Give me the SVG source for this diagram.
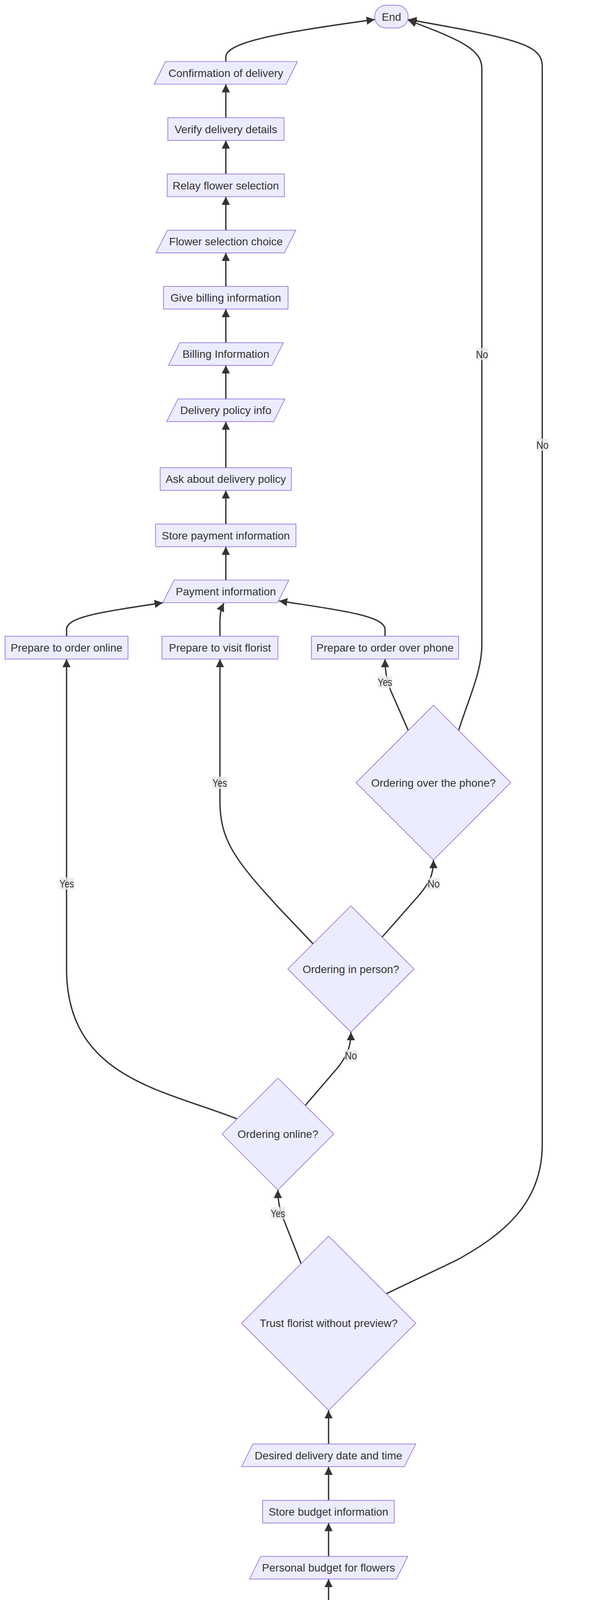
<svg xmlns="http://www.w3.org/2000/svg" width="1568" height="6082" viewBox="0 0 1568 6082">
<style>
.bg{fill:#ffffff}
.n{fill:#ECECFF;stroke:#9370DB;stroke-width:1.7}
.t{font-family:"Liberation Sans",Arial,"DejaVu Sans",sans-serif;font-size:28px;fill:#333333;text-anchor:middle}
.e{fill:none;stroke:#333333;stroke-width:3.4;marker-end:url(#arr)}
.lb{fill:#e8e8e8;fill-opacity:0.8}
</style>
<defs>
<marker id="arr" viewBox="0 0 10 10" refX="10" refY="5" markerUnits="userSpaceOnUse" markerWidth="21" markerHeight="21" orient="auto">
<path d="M0,0 L10,5 L0,10 z" fill="#333333"/>
</marker>
</defs>
<rect class="bg" x="0" y="0" width="1568" height="6082"/>
<g id="edges">
<path class="e" d="M578.6 157.5 L578.6 146 C578.6 110 700 85 960 50"/>
<path class="e" d="M578.6 301.5 L578.6 215.5"/>
<path class="e" d="M578.6 445.5 L578.6 359.5"/>
<path class="e" d="M578.6 589.3 L578.6 503.5"/>
<path class="e" d="M578.6 733.2 L578.6 647.3"/>
<path class="e" d="M578.6 877.3 L578.6 791.2"/>
<path class="e" d="M578.6 1021.4 L578.6 935.3"/>
<path class="e" d="M578.6 1197.4 L578.6 1079.4"/>
<path class="e" d="M578.6 1341.6 L578.6 1255.4"/>
<path class="e" d="M578.6 1485 L578.6 1399.6"/>
<path class="e" d="M170.5 1628.7 L170.5 1612 C170.5 1580 250 1568 417 1543"/>
<path class="e" d="M563.5 1628.7 L563.5 1595 C563.5 1570 566 1560 573.5 1544"/>
<path class="e" d="M986.5 1628.7 L986.5 1612 C986.5 1580 900 1565 715 1538.5"/>
<path class="e" d="M1046 1870 L1001 1768 C993 1745 986.5 1725 986.5 1687.2"/>
<path class="e" d="M1175 1870 C1200 1790 1234.5 1720 1234.5 1650 L1234.5 175 C1234.5 130 1190 105 1046 52"/>
<path class="e" d="M989.6 3312 L1170 3226 C1290 3160 1389.3 3080 1389.3 2930 L1389.3 170 C1389.3 115 1330 100 1046 50"/>
<path class="e" d="M979 2399 L1075 2290 C1100 2260 1110.5 2240 1110.5 2201.5"/>
<path class="e" d="M802 2416 L720 2330 C600 2200 563.5 2150 563.5 2050 L563.5 1687.2"/>
<path class="e" d="M782 2830 L868 2730 C890 2700 899 2680 899 2642.2"/>
<path class="e" d="M607.5 2864.5 C420 2790 170.5 2760 170.5 2480 L170.5 1687.2"/>
<path class="e" d="M771.4 3235 L728 3125 C716 3095 712 3075 712 3046"/>
<path class="e" d="M841.8 3696.7 L841.8 3610.4"/>
<path class="e" d="M841.8 3840.8 L841.8 3754.7"/>
<path class="e" d="M841.8 3984.3 L841.8 3898.8"/>
<path class="e" d="M841.8 4128.4 L841.8 4042.3"/>
<path class="e" d="M309 4272.5 L309 4258 C309 4225 400 4215 626 4187"/>
<path class="e" d="M841.8 4272.5 L841.8 4186.4"/>
<path class="e" d="M1355.5 4272.5 L1355.5 4258 C1355.5 4225 1270 4215 1031 4185.5"/>
<path class="e" d="M1013.3 4533 L905 4450 C860 4410 842 4385 842 4330.5"/>
<path class="e" d="M1182.7 4533 L1291 4450 C1336 4410 1355.5 4385 1355.5 4330.5"/>
<path class="e" d="M935 4977 L1065 4840 C1090 4805 1098 4790 1098 4756.3"/>
<path class="e" d="M696 5010 C505 4910 309 4800 309 4620 L309 4330.5"/>
<path class="e" d="M832.5 5369.7 L832.5 5284"/>
<path class="e" d="M832.5 5514.3 L832.5 5427.7"/>
<path class="e" d="M832.5 5657.8 L832.5 5572.3"/>
<path class="e" d="M832.5 5801.9 L832.5 5715.8"/>
<path class="e" d="M832.5 5945.4 L832.5 5859.9"/>
</g>
<g id="edge-labels">
<g><rect class="lb" x="1219" y="891" width="32" height="31"/><text class="t" x="1235" y="916.5" textLength="31" lengthAdjust="spacingAndGlyphs">No</text></g>
<g><rect class="lb" x="1373.7" y="1123" width="32" height="31"/><text class="t" x="1389.7" y="1148.5" textLength="31" lengthAdjust="spacingAndGlyphs">No</text></g>
<g><rect class="lb" x="967.3" y="1730.3" width="38" height="31"/><text class="t" x="986.3" y="1755.8" textLength="37" lengthAdjust="spacingAndGlyphs">Yes</text></g>
<g><rect class="lb" x="544" y="1988.5" width="38" height="31"/><text class="t" x="563" y="2014" textLength="37" lengthAdjust="spacingAndGlyphs">Yes</text></g>
<g><rect class="lb" x="1095" y="2246.5" width="32" height="31"/><text class="t" x="1111" y="2272" textLength="31" lengthAdjust="spacingAndGlyphs">No</text></g>
<g><rect class="lb" x="152" y="2246.3" width="38" height="31"/><text class="t" x="171" y="2271.8" textLength="37" lengthAdjust="spacingAndGlyphs">Yes</text></g>
<g><rect class="lb" x="883" y="2686.5" width="32" height="31"/><text class="t" x="899" y="2712" textLength="31" lengthAdjust="spacingAndGlyphs">No</text></g>
<g><rect class="lb" x="693" y="3090" width="38" height="31"/><text class="t" x="712" y="3115.5" textLength="37" lengthAdjust="spacingAndGlyphs">Yes</text></g>
<g><rect class="lb" x="823" y="4374.5" width="38" height="31"/><text class="t" x="842" y="4400" textLength="37" lengthAdjust="spacingAndGlyphs">Yes</text></g>
<g><rect class="lb" x="1340" y="4374.5" width="32" height="31"/><text class="t" x="1356" y="4400" textLength="31" lengthAdjust="spacingAndGlyphs">No</text></g>
<g><rect class="lb" x="290" y="4587.1" width="38" height="31"/><text class="t" x="309" y="4612.6" textLength="37" lengthAdjust="spacingAndGlyphs">Yes</text></g>
<g><rect class="lb" x="1083" y="4800" width="32" height="31"/><text class="t" x="1099" y="4825.5" textLength="31" lengthAdjust="spacingAndGlyphs">No</text></g>
</g>
<g id="n-end"><rect class="n" x="960" y="13.3" width="85.7" height="58.4" rx="29" ry="29"/><text class="t" x="1003" y="52.5">End</text></g>
<g id="n-confirmation"><polygon class="n" points="395.1,215.5 733.1,215.5 762.1,157.5 424.1,157.5"/><text class="t" x="578.6" y="196.5">Confirmation of delivery</text></g>
<g id="n-verify"><rect class="n" x="430" y="301.5" width="297.7" height="58"/><text class="t" x="578.8" y="340.5">Verify delivery details</text></g>
<g id="n-relay"><rect class="n" x="428.4" y="445.5" width="300.2" height="58"/><text class="t" x="578.5" y="484.5">Relay flower selection</text></g>
<g id="n-flowerchoice"><polygon class="n" points="399.8,647.3 728.8,647.3 757.8,589.3 428.8,589.3"/><text class="t" x="578.8" y="628.3">Flower selection choice</text></g>
<g id="n-givebilling"><rect class="n" x="418.8" y="733.2" width="319.2" height="58"/><text class="t" x="578.4" y="772.2">Give billing information</text></g>
<g id="n-billinginfo"><polygon class="n" points="431.7,935.3 696.7,935.3 725.7,877.3 460.7,877.3"/><text class="t" x="578.7" y="916.3">Billing Information</text></g>
<g id="n-deliverypolicyinfo"><polygon class="n" points="427,1079.4 701,1079.4 730,1021.4 456,1021.4"/><text class="t" x="578.5" y="1060.4">Delivery policy info</text></g>
<g id="n-askpolicy"><rect class="n" x="410.4" y="1197.4" width="336" height="58"/><text class="t" x="578.4" y="1236.4">Ask about delivery policy</text></g>
<g id="n-storepayment"><rect class="n" x="398.5" y="1341.6" width="359.8" height="58"/><text class="t" x="578.4" y="1380.6">Store payment information</text></g>
<g id="n-paymentinfo"><polygon class="n" points="417.1,1543 711.1,1543 740.1,1485 446.1,1485"/><text class="t" x="578.6" y="1524">Payment information</text></g>
<g id="n-prepareonline"><rect class="n" x="13" y="1628.7" width="315" height="58.5"/><text class="t" x="170.5" y="1668">Prepare to order online</text></g>
<g id="n-preparevisit"><rect class="n" x="415" y="1628.7" width="297" height="58.5"/><text class="t" x="563.5" y="1668">Prepare to visit florist</text></g>
<g id="n-preparephone"><rect class="n" x="798" y="1628.7" width="377" height="58.5"/><text class="t" x="986.5" y="1668">Prepare to order over phone</text></g>
<g id="n-orderphone"><polygon class="n" points="1110.5,1805.5 1308.5,2003.5 1110.5,2201.5 912.5,2003.5"/><text class="t" x="1110.5" y="2013.5">Ordering over the phone?</text></g>
<g id="n-orderperson"><polygon class="n" points="899,2319.2 1060.5,2480.7 899,2642.2 737.5,2480.7"/><text class="t" x="899" y="2490.7">Ordering in person?</text></g>
<g id="n-orderonline"><polygon class="n" points="712,2760 855,2903 712,3046 569,2903"/><text class="t" x="712" y="2913">Ordering online?</text></g>
<g id="n-trust"><polygon class="n" points="842,3164.4 1065,3387.4 842,3610.4 619,3387.4"/><text class="t" x="842" y="3397.4">Trust florist without preview?</text></g>
<g id="n-desireddate"><polygon class="n" points="619.1,3754.7 1036.1,3754.7 1065.1,3696.7 648.1,3696.7"/><text class="t" x="841.6" y="3735.7">Desired delivery date and time</text></g>
<g id="n-storebudget"><rect class="n" x="673" y="3840.8" width="337" height="58"/><text class="t" x="841.5" y="3879.8">Store budget information</text></g>
<g id="n-personalbudget"><polygon class="n" points="639.1,4042.3 1015.6,4042.3 1044.6,3984.3 668.1,3984.3"/><text class="t" x="841.8" y="4023.3">Personal budget for flowers</text></g>
<g id="n-arrangementsize"><polygon class="n" points="625.1,4186.4 1029.6,4186.4 1058.6,4128.4 654.1,4128.4"/><text class="t" x="841.8" y="4167.4">Appropriate arrangement size</text></g>
<g id="n-chooseflat"><rect class="n" x="108" y="4272.5" width="402" height="58"/><text class="t" x="309" y="4311.5">Choose flat, long arrangement</text></g>
<g id="n-choosesmaller"><rect class="n" x="596" y="4272.5" width="491" height="58"/><text class="t" x="841.5" y="4311.5">Choose smaller, daintier arrangement</text></g>
<g id="n-choosefitting"><rect class="n" x="1173" y="4272.5" width="365" height="58"/><text class="t" x="1355.5" y="4311.5">Choose fitting arrangement</text></g>
<g id="n-tablesmall"><polygon class="n" points="1098,4448.3 1252,4602.3 1098,4756.3 944,4602.3"/><text class="t" x="1098" y="4612.3">Is the table small?</text></g>
<g id="n-tablelarge"><polygon class="n" points="832,4874 1037,5079 832,5284 627,5079"/><text class="t" x="832" y="5089">Is the table large and flat?</text></g>
<g id="n-sizeshape"><polygon class="n" points="631.5,5427.7 1004.5,5427.7 1033.5,5369.7 660.5,5369.7"/><text class="t" x="832.5" y="5408.7">Size and shape of the table</text></g>
<g id="n-freshflowers"><polygon class="n" points="676.5,5572.3 959.5,5572.3 988.5,5514.3 705.5,5514.3"/><text class="t" x="832.5" y="5553.3">List of fresh flowers</text></g>
<g id="n-checkseason"><rect class="n" x="607" y="5657.8" width="450" height="58"/><text class="t" x="832" y="5696.8">Check which flowers are in season</text></g>
<g id="n-currentseason"><polygon class="n" points="707.5,5859.9 928.5,5859.9 957.5,5801.9 736.5,5801.9"/><text class="t" x="832.5" y="5840.9">Current season</text></g>
<g id="n-start"><rect class="n" x="782" y="5945.4" width="100" height="58.6" rx="29" ry="29"/><text class="t" x="832" y="5984.7">Start</text></g>
</svg>
